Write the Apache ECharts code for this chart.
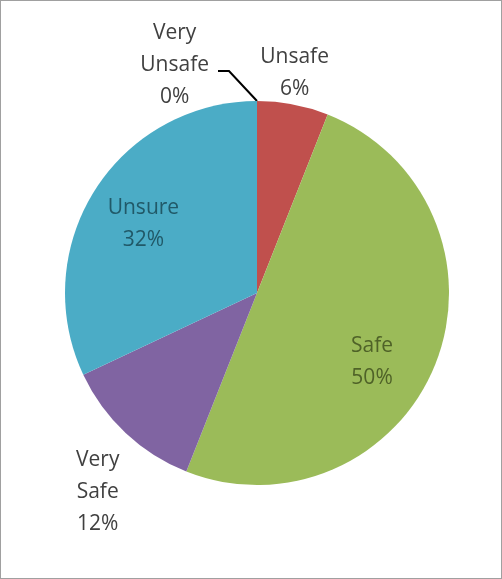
<!DOCTYPE html>
<html>
<head>
<meta charset="utf-8">
<script src="https://cdn.jsdelivr.net/npm/echarts@6/dist/echarts.min.js"></script>
<style>
html,body{margin:0;padding:0;background:#fff;}
#c{width:502px;height:579px;box-sizing:border-box;border:1px solid #a0a0a0;}
</style>
</head>
<body>
<div id="c"></div>
<script>
const categories = ['Unsafe', 'Safe', 'Very Safe', 'Unsure', 'Very Unsafe'];
const values = [6, 50, 12, 32, 0];
const colors = ['#C0504D', '#9BBB59', '#8064A2', '#4BACC6', '#4F81BD'];
const labelNames = ['Unsafe', 'Safe', 'Very\nSafe', 'Unsure', 'Very\nUnsafe'];

// label nudges relative to the library's own label placement
const labelShift = [[-57, -4], [23, 33], [32, 39], [-30, -16], [-29, -8]];

const chart = echarts.init(document.getElementById('c'));
const font = { fontFamily: 'Open Sans', fontSize: 21, lineHeight: 32 };
const labelCfg = [
  { position: 'outside', color: '#404040' },
  { position: 'inside', color: '#4F6228' },
  { position: 'outside', color: '#404040' },
  { position: 'inside', color: '#215968' },
  { position: 'outside', color: '#404040' }
];
const data = categories.map((c, i) => ({
  name: c,
  value: values[i],
  itemStyle: { color: colors[i] },
  label: Object.assign({ formatter: labelNames[i] + '\n{d}%', align: 'center' }, font, labelCfg[i]),
  labelLine: { show: i === 4, lineStyle: { color: '#000', width: 2 }, length: 28, length2: 14 }
}));
chart.setOption({
  animation: false,
  series: [{
    type: 'pie',
    center: [256, 292],
    radius: [0, 192],
    startAngle: 90,
    clockwise: true,
    stillShowZeroSum: true,
    data: data,
    label: { show: true },
    labelLine: { show: false },
    labelLayout: function (p) {
      const r = p.labelRect;
      const s = labelShift[p.dataIndex];
      const out = {
        x: r.x + r.width / 2 + s[0],
        y: r.y + r.height / 2 + s[1],
        align: 'center',
        verticalAlign: 'middle'
      };
      if (p.dataIndex === 4 && p.labelLinePoints) {
        const p0 = p.labelLinePoints[0];
        out.labelLinePoints = [
          [p0[0], p0[1]],
          [p0[0] - 28, p0[1] - 30],
          [p0[0] - 39, p0[1] - 30]
        ];
      }
      return out;
    }
  }]
});
</script>
</body>
</html>
